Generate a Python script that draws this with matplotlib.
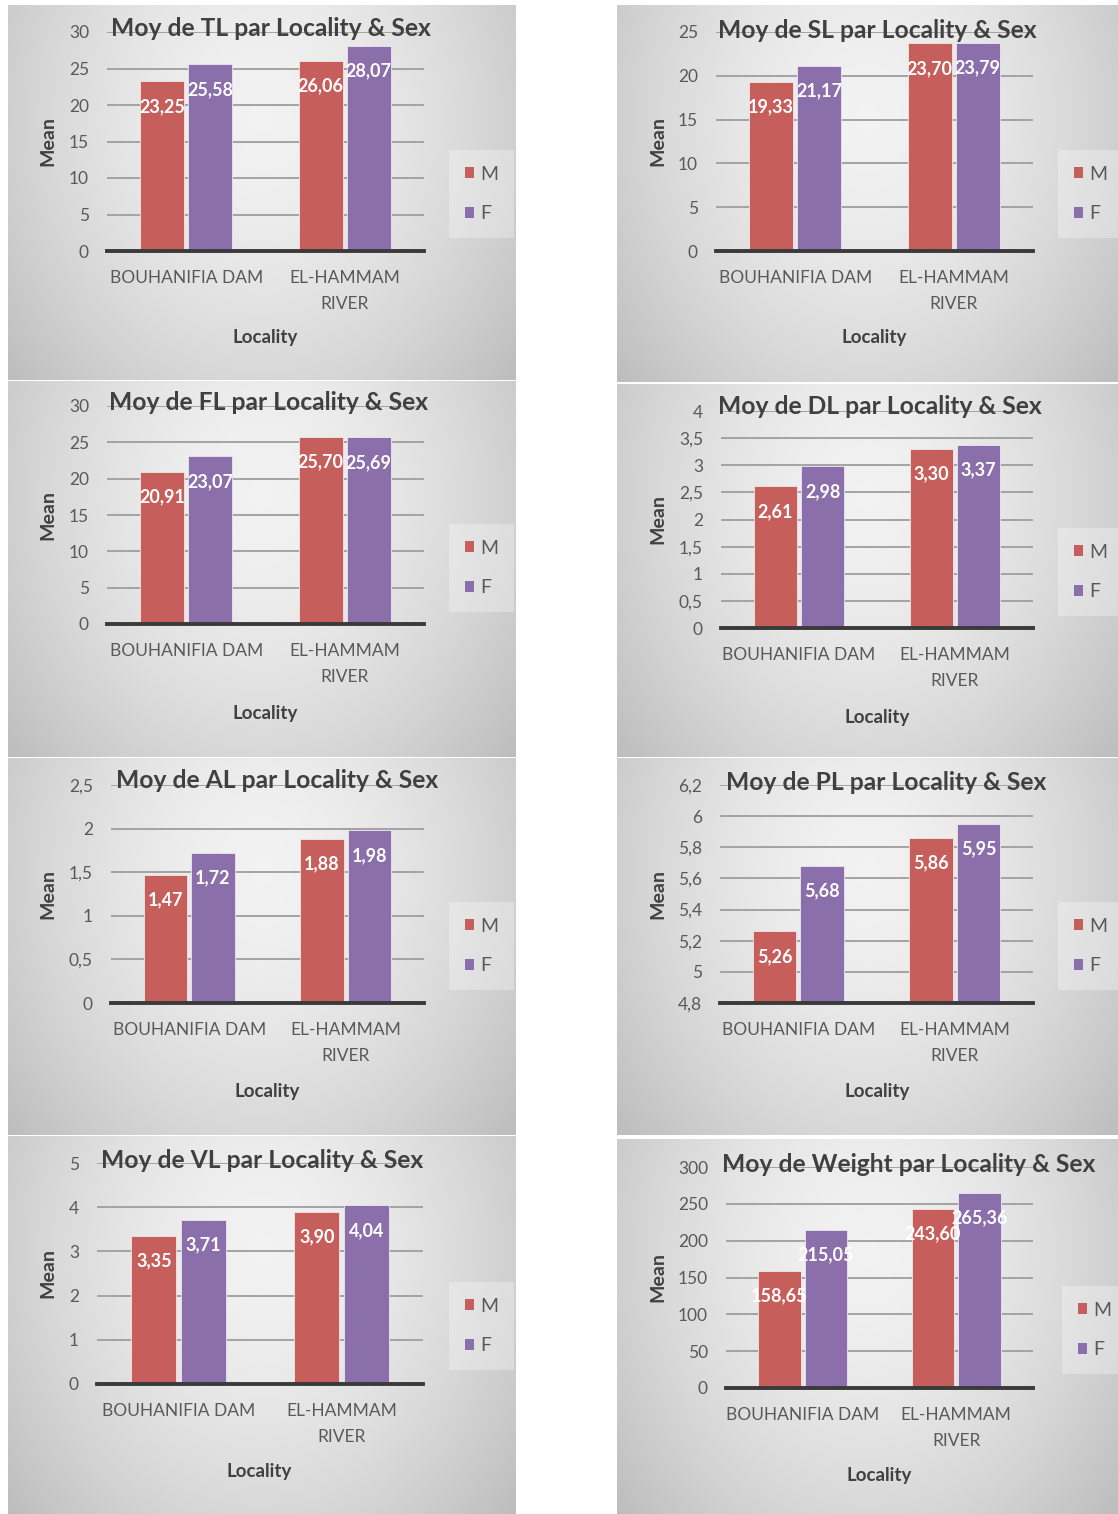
import numpy as np
import matplotlib
matplotlib.use("Agg")
import matplotlib.pyplot as plt
from matplotlib.patches import Patch

# ---------------- data ----------------
categories = ["BOUHANIFIA DAM", "EL-HAMMAM\nRIVER"]
series_names = ["M", "F"]

tl_m = [23.25, 26.06]
tl_f = [25.58, 28.07]
sl_m = [19.33, 23.70]
sl_f = [21.17, 23.79]
fl_m = [20.91, 25.70]
fl_f = [23.07, 25.69]
dl_m = [2.61, 3.30]
dl_f = [2.98, 3.37]
al_m = [1.47, 1.88]
al_f = [1.72, 1.98]
pl_m = [5.26, 5.86]
pl_f = [5.68, 5.95]
vl_m = [3.35, 3.90]
vl_f = [3.71, 4.04]
wt_m = [158.65, 243.60]
wt_f = [215.05, 265.36]

titles = ["Moy de TL par Locality & Sex", "Moy de SL par Locality & Sex",
          "Moy de FL par Locality & Sex", "Moy de DL par Locality & Sex",
          "Moy de AL par Locality & Sex", "Moy de PL par Locality & Sex",
          "Moy de VL par Locality & Sex", "Moy de Weight par Locality & Sex"]
y_limits = [(0, 30), (0, 25), (0, 30), (0, 4), (0, 2.5), (4.8, 6.2), (0, 5), (0, 300)]
y_steps = [5, 5, 5, 0.5, 0.5, 0.2, 1, 50]
males = [tl_m, sl_m, fl_m, dl_m, al_m, pl_m, vl_m, wt_m]
females = [tl_f, sl_f, fl_f, dl_f, al_f, pl_f, vl_f, wt_f]

# ---------------- layout (pixels) ----------------
W, H = 1118, 1514
layout = [
    dict(bg=(8, 5, 516, 380), plot=(107, 32, 424, 251), title=(271, 28), leg=(449, 194), mean=48, loc=(265, 338)),
    dict(bg=(617, 5, 1118, 382), plot=(716, 32, 1033, 251), title=(877, 31), leg=(1058, 194), mean=658, loc=(874, 338)),
    dict(bg=(8, 381, 516, 757), plot=(107, 406, 424, 624), title=(269, 402), leg=(449, 568), mean=48, loc=(265, 713)),
    dict(bg=(617, 384, 1118, 757), plot=(721, 411, 1033, 628), title=(880, 407), leg=(1058, 572), mean=658, loc=(877, 717)),
    dict(bg=(8, 758, 516, 1135), plot=(111, 785, 424, 1003), title=(277, 780), leg=(449, 946), mean=48, loc=(267, 1092)),
    dict(bg=(617, 758, 1118, 1135), plot=(720, 785, 1033, 1003), title=(886, 782), leg=(1058, 946), mean=658, loc=(877, 1092)),
    dict(bg=(8, 1136, 516, 1514), plot=(97, 1163, 423, 1384), title=(262, 1160), leg=(449, 1326), mean=48, loc=(259, 1471)),
    dict(bg=(617, 1139, 1118, 1514), plot=(726, 1167, 1033, 1388), title=(909, 1164), leg=(1062, 1330), mean=658, loc=(879, 1476)),
]

RED = "#C65E5B"
PURPLE = "#8B6FAA"
TXT = "#595959"
DARK = "#404040"
FONT = ["Lato", "DejaVu Sans"]
plt.rcParams["font.family"] = FONT

fig = plt.figure(figsize=(W / 100, H / 100), dpi=100)
fig.patch.set_facecolor("white")


def rect(x0, y0, x1, y1):
    return [x0 / W, 1 - y1 / H, (x1 - x0) / W, (y1 - y0) / H]


def gradient(nx=300, ny=220):
    x = np.linspace(-1, 1, nx)
    y = np.linspace(0, 1, ny)
    X, Y = np.meshgrid(x, y)
    r = np.sqrt((X / 1.15) ** 2 + ((Y - 0.3) / 0.95) ** 2)
    v = 0.95 - 0.17 * np.clip(r, 0, 1.3) ** 1.6
    return np.dstack([v, v, v])


grad = gradient()


def fmt(v):
    s = ("%.1f" % v).rstrip("0").rstrip(".")
    return s.replace(".", ",")


bw = 0.278
off = 0.1515

for i in range(8):
    L = layout[i]
    bg = fig.add_axes(rect(*L["bg"]))
    bg.imshow(grad, aspect="auto", extent=(0, 1, 0, 1), origin="upper", interpolation="bilinear")
    bg.set_axis_off()

    ax = fig.add_axes(rect(*L["plot"]))
    ax.set_facecolor("none")
    ymin, ymax = y_limits[i]
    xs = np.arange(len(categories))
    m = np.array(males[i])
    f = np.array(females[i])
    ax.bar(xs - off, m - ymin, bw, bottom=ymin, color=RED, edgecolor="#f4e6e6", linewidth=0.6, zorder=3, label=series_names[0])
    ax.bar(xs + off, f - ymin, bw, bottom=ymin, color=PURPLE, edgecolor="#ece6f4", linewidth=0.6, zorder=3, label=series_names[1])
    for xx, vals in ((xs - off, m), (xs + off, f)):
        for xv, v in zip(xx, vals):
            ax.annotate(("%.2f" % v).replace(".", ","), (xv, v), xytext=(0, -25), textcoords="offset pixels",
                        ha="center", va="center", color="white", fontsize=13, fontweight="bold", zorder=5)

    ax.set_xlim(-0.5, 1.5)
    ax.set_ylim(ymin, ymax)
    ticks = np.arange(ymin, ymax + y_steps[i] / 2, y_steps[i])
    ax.set_yticks(ticks)
    ax.set_yticklabels([fmt(t) for t in ticks])
    ax.set_xticks(xs)
    ax.set_xticklabels(categories, linespacing=1.75)
    ax.tick_params(axis="y", length=0, pad=13, labelsize=12.5, labelcolor=TXT)
    ax.tick_params(axis="x", length=0, pad=14, labelsize=12.5, labelcolor=TXT)
    ax.grid(axis="y", color="#a3a3a3", linewidth=1.4, zorder=1)
    ax.set_axisbelow(True)
    for s in ("top", "right", "left"):
        ax.spines[s].set_visible(False)
    ax.spines["bottom"].set_color("#3a3a3a")
    ax.spines["bottom"].set_linewidth(2.8)
    ax.spines["bottom"].set_zorder(4)

    fig.text(L["title"][0] / W, 1 - L["title"][1] / H, titles[i], ha="center", va="center",
             fontsize=17.7, fontweight="bold", color=DARK)
    fig.text(L["mean"] / W, 1 - (L["plot"][1] + L["plot"][3]) / 2 / H, "Mean", rotation=90,
             ha="center", va="center", fontsize=14, fontweight="bold", color=DARK)
    fig.text(L["loc"][0] / W, 1 - L["loc"][1] / H, "Locality", ha="center", va="center",
             fontsize=13.5, fontweight="bold", color=DARK)

    leg = ax.legend(handles=[Patch(facecolor=RED, edgecolor="none"), Patch(facecolor=PURPLE, edgecolor="none")],
                    labels=series_names, loc="center left",
                    bbox_to_anchor=(L["leg"][0] / W, 1 - L["leg"][1] / H), bbox_transform=fig.transFigure,
                    fontsize=14, handlelength=0.5, handleheight=0.5, handletextpad=0.3,
                    labelspacing=1.15, borderpad=0.8, borderaxespad=0, frameon=True, fancybox=False)
    leg.get_frame().set_facecolor("white")
    leg.get_frame().set_alpha(0.3)
    leg.get_frame().set_edgecolor("none")
    for t in leg.get_texts():
        t.set_color(TXT)

fig.savefig("out.png", dpi=100, facecolor="white")
